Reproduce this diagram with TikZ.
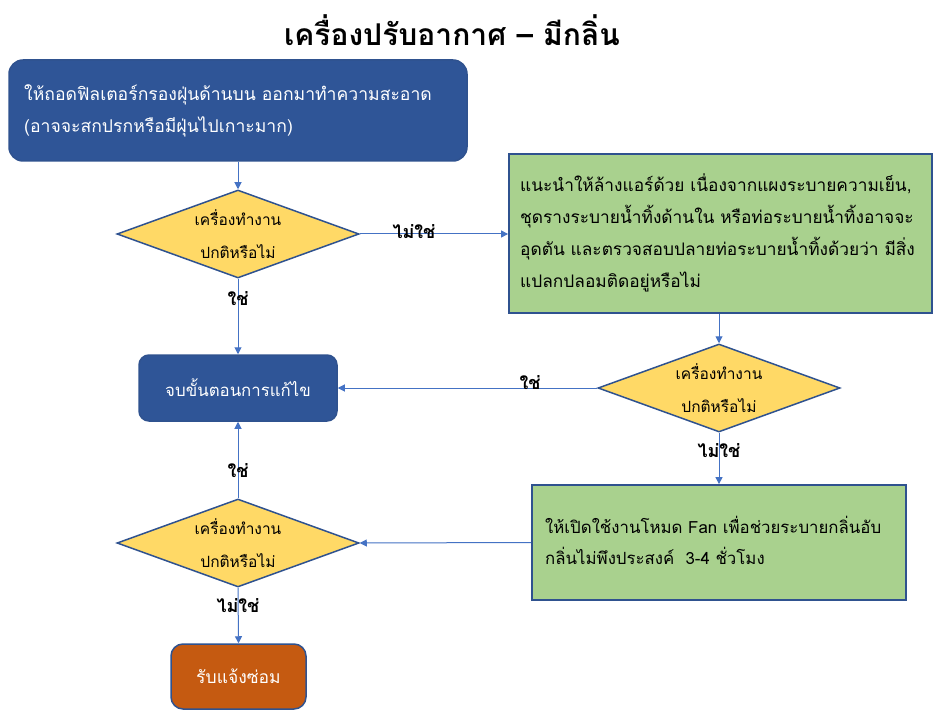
\documentclass[tikz,border=0pt]{standalone}
\usepackage{fontspec}
\setmainfont[Script=Thai]{Loma}
\usetikzlibrary{shapes.geometric,arrows.meta}
\definecolor{dblue}{HTML}{2F5597}
\definecolor{bord}{HTML}{2F528F}
\definecolor{ygold}{HTML}{FFD966}
\definecolor{lgreen}{HTML}{A9D18E}
\definecolor{orng}{HTML}{C55A11}
\definecolor{arr}{HTML}{4472C4}
\tikzset{
 blubox/.style={draw=bord, line width=1.5pt, fill=dblue, rounded corners=14pt, inner sep=0pt},
 orbox/.style={draw=bord, line width=1.5pt, fill=orng, rounded corners=12pt, inner sep=0pt},
 grnbox/.style={draw=bord, line width=1.8pt, fill=lgreen, inner sep=0pt},
 dec/.style={diamond, draw=bord, line width=1.5pt, fill=ygold, minimum width=242pt, minimum height=88pt, inner sep=0pt},
 dtext/.style={align=center, inner sep=0pt, font=\fontsize{15.5}{33}\selectfont},
 btext/.style={align=left, inner sep=0pt, font=\fontsize{17.3}{32}\selectfont},
 wtext/.style={text=white, align=center, inner sep=0pt, font=\fontsize{16.8}{32}\selectfont},
 conn/.style={draw=arr, line width=1pt, -{Triangle[length=7pt,width=7pt]}},
 lbl/.style={inner sep=0pt, font=\fontsize{18}{20}\selectfont\bfseries},
}
\begin{document}
\begin{tikzpicture}[x=1pt,y=-1pt]
\useasboundingbox[fill=white] (0,0) rectangle (950,727);
% title
\node[font=\fontsize{30}{34}\selectfont\bfseries] (title) at (452,30) {เครื่องปรับอากาศ – มีกลิ่น};
% boxes
\node[blubox, minimum width=458pt, minimum height=101pt] (top) at (238,110.5) {};
\node[btext, text=white, font=\fontsize{17.6}{32}\selectfont, anchor=west] (toptxt) at (24,111) {ให้ถอดฟิลเตอร์กรองฝุ่นด้านบน ออกมาทำความสะอาด\\(อาจจะสกปรกหรือมีฝุ่นไปเกาะมาก)};
\node[dec] (d1) at (238,234) {};
\node[dtext] (d1t) at (238,234) {เครื่องทำงาน\\ปกติหรือไม่};
\node[grnbox, minimum width=423pt, minimum height=159pt] (g1) at (720.5,233.5) {};
\node[btext, anchor=west] (g1t) at (520,232.5) {แนะนำให้ล้างแอร์ด้วย เนื่องจากแผงระบายความเย็น,\\ชุดรางระบายน้ำทิ้งด้านใน หรือท่อระบายน้ำทิ้งอาจจะ\\อุดตัน และตรวจสอบปลายท่อระบายน้ำทิ้งด้วยว่า มีสิ่ง\\แปลกปลอมติดอยู่หรือไม่};
\node[blubox, rounded corners=10pt, minimum width=198pt, minimum height=66pt] (end) at (238,388) {};
\node[wtext] (endt) at (238,388) {จบขั้นตอนการแก้ไข};
\node[dec] (d2) at (719,388) {};
\node[dtext] (d2t) at (719,388) {เครื่องทำงาน\\ปกติหรือไม่};
\node[grnbox, minimum width=374pt, minimum height=115pt] (g2) at (719,542.5) {};
\node[btext, font=\fontsize{16.8}{31}\selectfont, anchor=west] (g2t) at (545,540) {ให้เปิดใช้งานโหมด Fan เพื่อช่วยระบายกลิ่นอับ\\กลิ่นไม่พึงประสงค์~ 3-4 ชั่วโมง};
\node[dec] (d3) at (238,543) {};
\node[dtext] (d3t) at (238,543) {เครื่องทำงาน\\ปกติหรือไม่};
\node[orbox, minimum width=135pt, minimum height=65pt] (rep) at (238.5,676.5) {};
\node[wtext, font=\fontsize{17.5}{32}\selectfont] (rept) at (238.5,676.5) {รับแจ้งซ่อม};
% connectors
\draw[conn] (top.south) -- (d1.north);
\draw[conn] (d1.east) -- (d1.east -| g1.west);
\draw[conn] (d1.south) -- (end.north);
\draw[conn] (g1.south -| d2.north) -- (d2.north);
\draw[conn] (d2.west) -- (end.east);
\draw[conn] (d2.south) -- (g2.north);
\draw[conn] (g2.west) -- (d3.east);
\draw[conn] (d3.north) -- (end.south);
\draw[conn] (d3.south) -- (rep.north);
% labels
\node[lbl] (l1) at (414,232) {ไม่ใช่};
\node[lbl] (l2) at (238,299) {ใช่};
\node[lbl] (l3) at (530,383) {ใช่};
\node[lbl] (l4) at (719,451) {ไม่ใช่};
\node[lbl] (l5) at (238,471) {ใช่};
\node[lbl] (l6) at (238,606) {ไม่ใช่};
\end{tikzpicture}
\end{document}
